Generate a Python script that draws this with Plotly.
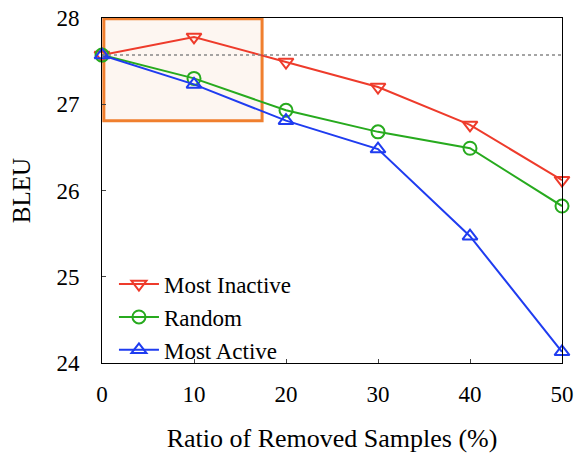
import plotly.graph_objects as go

ratios = [0, 10, 20, 30, 40, 50]
most_inactive = [27.57, 27.78, 27.49, 27.20, 26.76, 26.12]
random_vals = [27.57, 27.30, 26.93, 26.68, 26.49, 25.82]
most_active = [27.57, 27.23, 26.81, 26.48, 25.47, 24.13]
baseline = 27.57
x_ticks = [0, 10, 20, 30, 40, 50]
y_ticks = [24, 25, 26, 27, 28]

font = "Liberation Serif, Times New Roman, serif"

fig = go.Figure()

# highlight box
fig.add_shape(type="rect", xref="x", yref="y", x0=0.2, x1=17.4, y0=26.81, y1=27.99,
              line=dict(color="#f07f2e", width=3), fillcolor="rgba(250,235,225,0.45)", layer="below")

fig.add_shape(type="line", xref="x", yref="y", x0=0, x1=50, y0=baseline, y1=baseline,
              line=dict(color="#888888", width=1.5, dash="dot"))

series = [
    ("Most Inactive", most_inactive, "#ee3b2b", "triangle-down-open"),
    ("Random", random_vals, "#27aa1e", "circle-open"),
    ("Most Active", most_active, "#1f3cf0", "triangle-up-open"),
]
for name, vals, col, sym in series:
    fig.add_trace(go.Scatter(x=ratios, y=vals, name=name, mode="lines+markers",
                             line=dict(color=col, width=2),
                             marker=dict(symbol=sym, size=13, color=col, line=dict(color=col, width=2)),
                             cliponaxis=False))

fig.update_layout(
    width=574, height=453,
    margin=dict(l=102, r=12, t=18, b=90),
    paper_bgcolor="white", plot_bgcolor="white",
    font=dict(family=font, size=23, color="black"),
    showlegend=True,
    legend=dict(x=0.026, y=0.133, xanchor="left", yanchor="middle", bgcolor="rgba(0,0,0,0)",
                font=dict(size=23, family=font), tracegroupgap=0, itemwidth=40),
    xaxis=dict(range=[0, 50], tickvals=x_ticks, ticks="inside", ticklen=4, showgrid=False,
               zeroline=False, showline=True, linecolor="black", linewidth=1, mirror=True,
               automargin=False, ticklabelstandoff=10, ticklabeloverflow="allow",
               title=dict(text="Ratio of Removed Samples (%)", font=dict(size=26, family=font), standoff=25),
               tickfont=dict(size=23, family=font)),
    yaxis=dict(range=[24, 28], tickvals=y_ticks, ticks="inside", ticklen=4, showgrid=False,
               zeroline=False, showline=True, linecolor="black", linewidth=1, mirror=True,
               automargin=False, ticklabelstandoff=17, ticklabeloverflow="allow",
               title=dict(text="BLEU", font=dict(size=25, family=font), standoff=18),
               tickfont=dict(size=23, family=font)),
)

fig.write_html("out.html", config={"displayModeBar": False},
               post_script="document.body.style.margin='0';document.body.style.overflow='hidden';")
